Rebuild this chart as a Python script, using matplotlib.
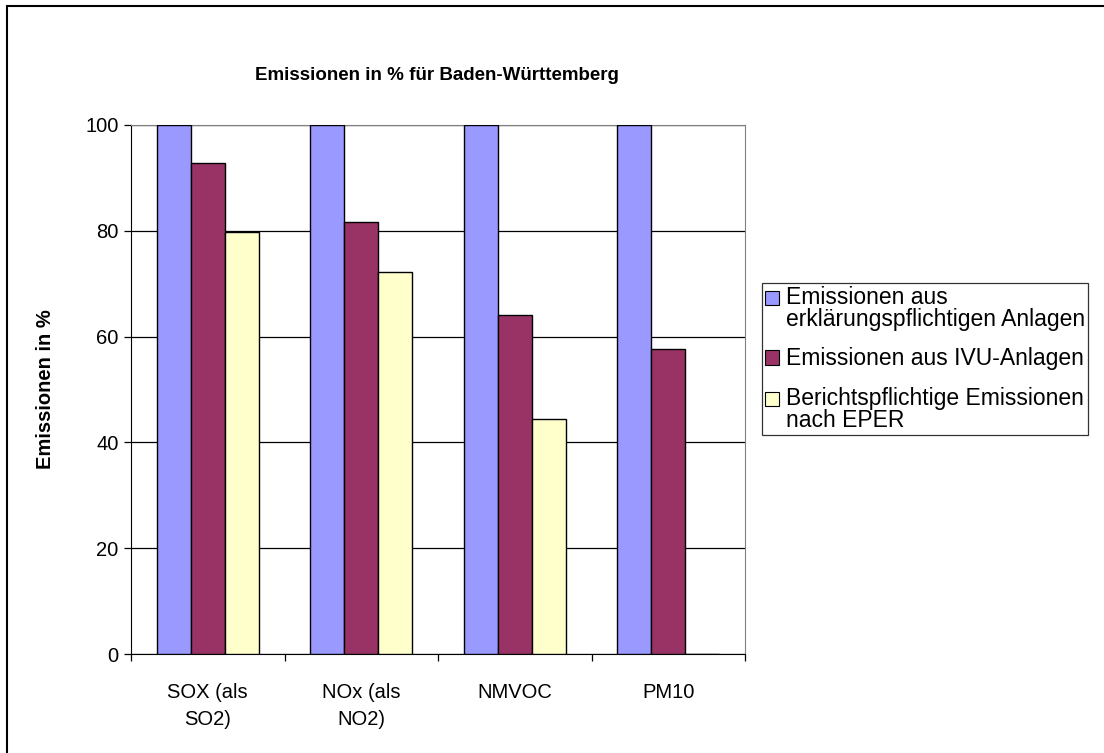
import matplotlib.pyplot as plt
import numpy as np
from matplotlib.patches import Patch, Rectangle
from matplotlib.legend_handler import HandlerPatch

plt.rcParams['font.family'] = ['Liberation Sans', 'DejaVu Sans']

categories = ['SOX (als\nSO2)', 'NOx (als\nNO2)', 'NMVOC', 'PM10']
erklaerungspflichtig = [100, 100, 100, 100]
ivu = [92.9, 81.7, 64.0, 57.6]
eper = [79.8, 72.3, 44.4, 0]

series_labels = ['Emissionen aus\nerklärungspflichtigen Anlagen',
                 'Emissionen aus IVU-Anlagen',
                 'Berichtspflichtige Emissionen\nnach EPER']
colors = ['#9999FF', '#993366', '#FFFFCC']


def top_square(n_lines):
    # put the legend square on the first text line, like Excel does
    def make(legend, orig_handle, xdescent, ydescent, width, height, fontsize):
        shift = 0.5 * fontsize * (n_lines - 1)
        return Rectangle((-xdescent, -ydescent + shift), width, height)
    return HandlerPatch(patch_func=make)


def main():
    fig = plt.figure(figsize=(11.04, 7.53), dpi=100)
    ax = fig.add_axes([131 / 1104, 1 - 654 / 753, 614 / 1104, 529 / 753])

    x = np.arange(len(categories))
    w = 1 / 4.5
    for i, vals in enumerate([erklaerungspflichtig, ivu, eper]):
        ax.bar(x + (i - 1) * w, vals, width=w, color=colors[i],
               edgecolor='black', linewidth=1.0, zorder=3)

    ax.set_xlim(-0.5, len(categories) - 0.5)
    ax.set_ylim(0, 100)
    ax.set_yticks(range(0, 101, 20))
    ax.yaxis.grid(True, color='black', linewidth=0.9, zorder=0)
    ax.set_xticks(x)
    ax.set_xticklabels(categories, fontsize=14.5, linespacing=1.5)
    ax.set_xticks(np.arange(-0.5, len(categories), 1), minor=True)
    ax.tick_params(axis='x', which='major', length=0, pad=21)
    ax.tick_params(axis='x', which='minor', length=5, width=0.9, direction='out')
    ax.tick_params(axis='y', length=5, width=0.9, labelsize=14.5, pad=4)

    ax.spines['left'].set_color('black')
    ax.spines['bottom'].set_color('black')
    ax.spines['right'].set_color('#808080')
    ax.spines['top'].set_color('#808080')

    ax.set_ylabel('Emissionen in %', fontsize=14.5, fontweight='bold', labelpad=22)
    fig.text(437 / 1104, 1 - 75 / 753, 'Emissionen in % für Baden-Württemberg',
             ha='center', va='center', fontsize=13.5, fontweight='bold')

    handles = [Patch(facecolor=c, edgecolor='black', linewidth=0.8) for c in colors]
    hmap = {h: top_square(lab.count('\n') + 1) for h, lab in zip(handles, series_labels)}
    leg = fig.legend(handles, series_labels, loc='upper left',
                     bbox_to_anchor=(762 / 1104, 1 - 283 / 753),
                     fontsize=16.5, frameon=True, fancybox=False,
                     edgecolor='black', handlelength=0.58, handleheight=0.58,
                     handletextpad=0.3, labelspacing=0.72, borderpad=0.15,
                     borderaxespad=0, handler_map=hmap)
    leg.get_frame().set_linewidth(0.9)
    for t in leg.get_texts():
        t.set_linespacing(0.92)

    fig.patches.append(Rectangle((7 / 1104, -0.1), 1.2, 1 - 6.5 / 753 + 0.1,
                                 transform=fig.transFigure, fill=False,
                                 edgecolor='black', linewidth=1.5))

    fig.savefig('out.png', dpi=100)


if __name__ == '__main__':
    main()
